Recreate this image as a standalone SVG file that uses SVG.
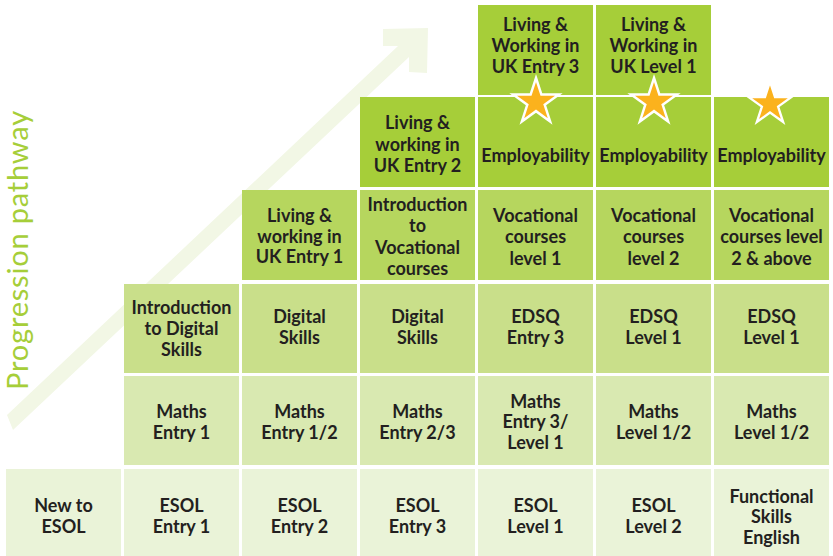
<svg xmlns="http://www.w3.org/2000/svg" width="833" height="556" viewBox="0 0 833 556">
<defs>
<style>
.t{font-family:Lato,"Liberation Sans",sans-serif;font-weight:bold;font-size:18px;fill:#231f20;text-anchor:middle}
.c1{fill:#a6ce39}
.c2{fill:#b6d65e}
.c3{fill:#c9df8a}
.c4{fill:#d9e9b1}
.c5{fill:#eaf3d8}
.star{fill:#fbb21d;stroke:#ffffff;stroke-width:2.5;stroke-linejoin:miter}
</style>
<path id="star" d="M0,-24 L5.39,-7.42 L22.83,-7.42 L8.72,2.83 L14.11,19.42 L0,9.17 L-14.11,19.42 L-8.72,2.83 L-22.83,-7.42 L-5.39,-7.42 Z"/>
</defs>
<rect width="833" height="556" fill="#ffffff"/>
<g id="pathway-arrow">
<polygon points="7,415 398,46 383,46 383,29 428,28 427,73 409,72 409,57 13,430" fill="#f2f7e5"/>
<text x="28" y="250" transform="rotate(-90 28 250)" font-family="Lato,'Liberation Sans',sans-serif" font-size="29" fill="#a6ce39" text-anchor="middle" letter-spacing="0.8">Progression pathway</text>
</g>
<g id="connectors"></g>

<g id="lw-uk-entry3"><rect class="c1" x="478" y="5" width="115" height="90"/>
<text class="t"><tspan x="535.5" y="31">Living &amp;</tspan><tspan x="535.5" y="52">Working in</tspan><tspan x="535.5" y="73">UK Entry 3</tspan></text></g>
<g id="lw-uk-level1"><rect class="c1" x="596" y="5" width="115" height="90"/>
<text class="t"><tspan x="653.5" y="31">Living &amp;</tspan><tspan x="653.5" y="52">Working in</tspan><tspan x="653.5" y="73">UK Level 1</tspan></text></g>

<g id="lw-uk-entry2"><rect class="c1" x="360" y="97" width="115" height="90"/>
<text class="t"><tspan x="417.5" y="129">Living &amp;</tspan><tspan x="417.5" y="150.5">working in</tspan><tspan x="417.5" y="172">UK Entry 2</tspan></text></g>
<g id="employability-1"><rect class="c1" x="478" y="97" width="115" height="90"/>
<text class="t" x="535.5" y="162">Employability</text></g>
<g id="employability-2"><rect class="c1" x="596" y="97" width="115" height="90"/>
<text class="t" x="653.5" y="162">Employability</text></g>
<g id="employability-3"><rect class="c1" x="714" y="97" width="115" height="90"/>
<text class="t" x="771.5" y="162">Employability</text></g>

<g id="lw-uk-entry1"><rect class="c2" x="242" y="190" width="115" height="90"/>
<text class="t"><tspan x="299.5" y="222">Living &amp;</tspan><tspan x="299.5" y="243">working in</tspan><tspan x="299.5" y="263">UK Entry 1</tspan></text></g>
<g id="intro-vocational"><rect class="c2" x="360" y="190" width="115" height="90"/>
<text class="t"><tspan x="417.5" y="211">Introduction</tspan><tspan x="417.5" y="232">to</tspan><tspan x="417.5" y="254">Vocational</tspan><tspan x="417.5" y="275">courses</tspan></text></g>
<g id="vocational-1"><rect class="c2" x="478" y="190" width="115" height="90"/>
<text class="t"><tspan x="535.5" y="222">Vocational</tspan><tspan x="535.5" y="243">courses</tspan><tspan x="535.5" y="265">level 1</tspan></text></g>
<g id="vocational-2"><rect class="c2" x="596" y="190" width="115" height="90"/>
<text class="t"><tspan x="653.5" y="222">Vocational</tspan><tspan x="653.5" y="243">courses</tspan><tspan x="653.5" y="265">level 2</tspan></text></g>
<g id="vocational-3"><rect class="c2" x="714" y="190" width="115" height="90"/>
<text class="t"><tspan x="771.5" y="222">Vocational</tspan><tspan x="771.5" y="243">courses level</tspan><tspan x="771.5" y="265">2 &amp; above</tspan></text></g>

<g id="intro-digital"><rect class="c3" x="124" y="284" width="115" height="89"/>
<text class="t"><tspan x="181.5" y="314">Introduction</tspan><tspan x="181.5" y="335">to Digital</tspan><tspan x="181.5" y="356">Skills</tspan></text></g>
<g id="digital-1"><rect class="c3" x="242" y="284" width="115" height="89"/>
<text class="t"><tspan x="299.5" y="323">Digital</tspan><tspan x="299.5" y="344">Skills</tspan></text></g>
<g id="digital-2"><rect class="c3" x="360" y="284" width="115" height="89"/>
<text class="t"><tspan x="417.5" y="323">Digital</tspan><tspan x="417.5" y="344">Skills</tspan></text></g>
<g id="edsq-entry3"><rect class="c3" x="478" y="284" width="115" height="89"/>
<text class="t"><tspan x="535.5" y="323">EDSQ</tspan><tspan x="535.5" y="344">Entry 3</tspan></text></g>
<g id="edsq-level1a"><rect class="c3" x="596" y="284" width="115" height="89"/>
<text class="t"><tspan x="653.5" y="323">EDSQ</tspan><tspan x="653.5" y="344">Level 1</tspan></text></g>
<g id="edsq-level1b"><rect class="c3" x="714" y="284" width="115" height="89"/>
<text class="t"><tspan x="771.5" y="323">EDSQ</tspan><tspan x="771.5" y="344">Level 1</tspan></text></g>

<g id="maths-entry1"><rect class="c4" x="124" y="376" width="115" height="89"/>
<text class="t"><tspan x="181.5" y="418">Maths</tspan><tspan x="181.5" y="439">Entry 1</tspan></text></g>
<g id="maths-entry12"><rect class="c4" x="242" y="376" width="115" height="89"/>
<text class="t"><tspan x="299.5" y="418">Maths</tspan><tspan x="299.5" y="439">Entry 1/2</tspan></text></g>
<g id="maths-entry23"><rect class="c4" x="360" y="376" width="115" height="89"/>
<text class="t"><tspan x="417.5" y="418">Maths</tspan><tspan x="417.5" y="439">Entry 2/3</tspan></text></g>
<g id="maths-entry3-level1"><rect class="c4" x="478" y="376" width="115" height="89"/>
<text class="t"><tspan x="535.5" y="408">Maths</tspan><tspan x="535.5" y="428">Entry 3/</tspan><tspan x="535.5" y="449">Level 1</tspan></text></g>
<g id="maths-level12a"><rect class="c4" x="596" y="376" width="115" height="89"/>
<text class="t"><tspan x="653.5" y="418">Maths</tspan><tspan x="653.5" y="439">Level 1/2</tspan></text></g>
<g id="maths-level12b"><rect class="c4" x="714" y="376" width="115" height="89"/>
<text class="t"><tspan x="771.5" y="418">Maths</tspan><tspan x="771.5" y="439">Level 1/2</tspan></text></g>

<g id="new-to-esol"><rect class="c5" x="6" y="469" width="115" height="87"/>
<text class="t"><tspan x="63.5" y="512">New to</tspan><tspan x="63.5" y="533">ESOL</tspan></text></g>
<g id="esol-entry1"><rect class="c5" x="124" y="469" width="115" height="87"/>
<text class="t"><tspan x="181.5" y="512">ESOL</tspan><tspan x="181.5" y="533">Entry 1</tspan></text></g>
<g id="esol-entry2"><rect class="c5" x="242" y="469" width="115" height="87"/>
<text class="t"><tspan x="299.5" y="512">ESOL</tspan><tspan x="299.5" y="533">Entry 2</tspan></text></g>
<g id="esol-entry3"><rect class="c5" x="360" y="469" width="115" height="87"/>
<text class="t"><tspan x="417.5" y="512">ESOL</tspan><tspan x="417.5" y="533">Entry 3</tspan></text></g>
<g id="esol-level1"><rect class="c5" x="478" y="469" width="115" height="87"/>
<text class="t"><tspan x="535.5" y="512">ESOL</tspan><tspan x="535.5" y="533">Level 1</tspan></text></g>
<g id="esol-level2"><rect class="c5" x="596" y="469" width="115" height="87"/>
<text class="t"><tspan x="653.5" y="512">ESOL</tspan><tspan x="653.5" y="533">Level 2</tspan></text></g>
<g id="functional-skills-english"><rect class="c5" x="714" y="469" width="115" height="87"/>
<text class="t"><tspan x="771.5" y="503">Functional</tspan><tspan x="771.5" y="523">Skills</tspan><tspan x="771.5" y="544">English</tspan></text></g>

<g id="stars">
<use href="#star" class="star" transform="translate(536 102)"/>
<use href="#star" class="star" transform="translate(654 102)"/>
<use href="#star" class="star" transform="translate(770 104) scale(0.93)"/>
</g>
</svg>
